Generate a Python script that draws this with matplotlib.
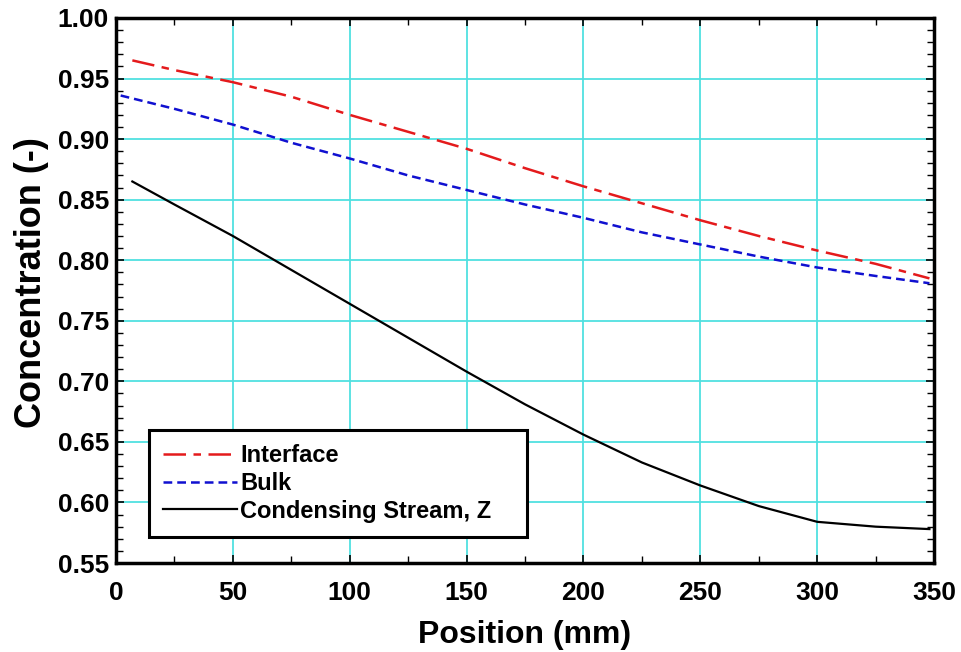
import matplotlib
matplotlib.use('Agg')
import matplotlib.pyplot as plt
from matplotlib.ticker import MultipleLocator

plt.rcParams['font.family'] = ['Liberation Sans', 'DejaVu Sans']
plt.rcParams['font.weight'] = 'bold'

# values
pos_int = [7, 25, 50, 75, 100, 125, 150, 175, 200, 225, 250, 275, 300, 325, 348]
interface = [0.965, 0.957, 0.947, 0.935, 0.920, 0.906, 0.892, 0.876, 0.861, 0.847, 0.833, 0.820, 0.808, 0.797, 0.785]

pos_bulk = [2, 25, 50, 75, 100, 125, 150, 175, 200, 225, 250, 275, 300, 325, 348]
bulk = [0.936, 0.925, 0.912, 0.897, 0.884, 0.870, 0.858, 0.846, 0.835, 0.823, 0.813, 0.803, 0.794, 0.787, 0.781]

pos_z = [7, 25, 50, 75, 100, 125, 150, 175, 200, 225, 250, 275, 300, 325, 348]
stream_z = [0.865, 0.846, 0.820, 0.792, 0.764, 0.736, 0.708, 0.681, 0.656, 0.633, 0.614, 0.597, 0.584, 0.580, 0.578]

fig = plt.figure(figsize=(9.61, 6.52), dpi=100)
ax = fig.add_axes([0.1207, 0.1365, 0.8513, 0.8359])

ax.plot(pos_int, interface, color='#e41a1c', lw=1.8, dashes=(9, 3, 3, 3), label='Interface')
ax.plot(pos_bulk, bulk, color='#1010d0', lw=1.8, dashes=(3.5, 2), label='Bulk')
ax.plot(pos_z, stream_z, color='black', lw=1.6, label='Condensing Stream, Z')

ax.set_xlim(0, 350)
ax.set_ylim(0.55, 1.00)
ax.xaxis.set_major_locator(MultipleLocator(50))
ax.xaxis.set_minor_locator(MultipleLocator(25))
ax.yaxis.set_major_locator(MultipleLocator(0.05))
ax.yaxis.set_minor_locator(MultipleLocator(0.01))
ax.yaxis.set_major_formatter(plt.FormatStrFormatter('%.2f'))

ax.grid(True, which='major', color='#50e0e0', lw=1.3)
ax.set_axisbelow(True)
ax.tick_params(which='both', direction='in', top=True, right=True, labelsize=19)
ax.tick_params(axis='x', which='major', pad=13)
ax.tick_params(axis='y', which='major', pad=5)
ax.tick_params(which='major', length=6, width=1.2)
ax.tick_params(which='minor', length=5, width=1)
for s in ax.spines.values():
    s.set_linewidth(2.5)

ax.set_xlabel('Position (mm)', fontsize=23, fontweight='bold', labelpad=11)
ax.set_ylabel('Concentration (-)', fontsize=26, fontweight='bold')
ax.yaxis.set_label_coords(-0.082, 0.515)

leg = ax.legend(loc='lower left', bbox_to_anchor=(0.04, 0.048, 0.463, 0.2), mode='expand',
                fontsize=17, fancybox=False, framealpha=1, edgecolor='black',
                handlelength=3.15, handletextpad=0.12, borderaxespad=0, borderpad=0.6,
                labelspacing=0.2)
leg.get_frame().set_linewidth(2.2)

fig.savefig('out.png', dpi=100)
